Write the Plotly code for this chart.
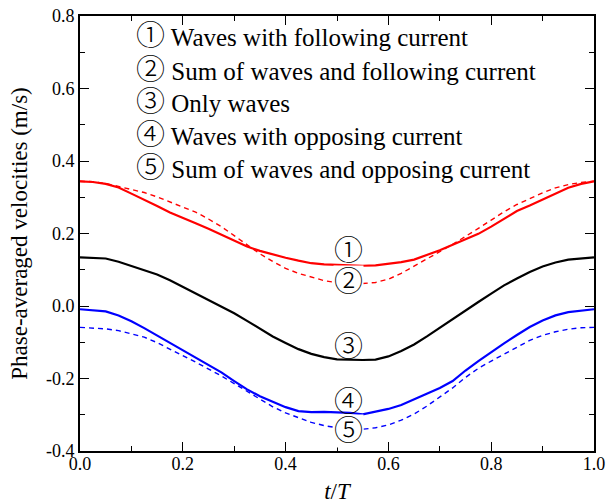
import plotly.graph_objects as go

# phase t/T
t = [i * 0.025 for i in range(41)]

# (1) Waves with following current (red solid)
v_follow = [0.344, 0.342, 0.337, 0.327, 0.310, 0.294, 0.276, 0.258, 0.242, 0.228,
            0.213, 0.197, 0.180, 0.164, 0.152, 0.142, 0.133, 0.125, 0.118, 0.115,
            0.113, 0.112, 0.111, 0.112, 0.116, 0.121, 0.128, 0.140, 0.154, 0.169,
            0.184, 0.199, 0.219, 0.240, 0.262, 0.277, 0.293, 0.311, 0.326, 0.337, 0.344]
# (2) Sum of waves and following current (red dashed)
v_sum_follow = [0.344, 0.343, 0.338, 0.330, 0.322, 0.313, 0.301, 0.287, 0.273, 0.259,
                0.240, 0.219, 0.194, 0.168, 0.144, 0.123, 0.104, 0.090, 0.079, 0.070,
                0.064, 0.061, 0.062, 0.065, 0.074, 0.090, 0.110, 0.131, 0.150, 0.170,
                0.191, 0.214, 0.237, 0.260, 0.280, 0.297, 0.312, 0.326, 0.335, 0.341, 0.344]
# (3) Only waves (black solid)
v_waves = [0.134, 0.133, 0.131, 0.122, 0.111, 0.100, 0.087, 0.071, 0.053, 0.036,
           0.018, 0.000, -0.020, -0.041, -0.062, -0.084, -0.102, -0.119, -0.132, -0.141,
           -0.147, -0.149, -0.149, -0.148, -0.139, -0.124, -0.106, -0.084, -0.060, -0.035,
           -0.012, 0.011, 0.034, 0.057, 0.076, 0.094, 0.109, 0.120, 0.128, 0.132, 0.134]
# (4) Waves with opposing current (blue solid)
v_oppose = [-0.009, -0.011, -0.015, -0.026, -0.042, -0.061, -0.081, -0.101, -0.122, -0.142,
            -0.161, -0.183, -0.207, -0.230, -0.249, -0.265, -0.279, -0.290, -0.293, -0.292,
            -0.293, -0.295, -0.299, -0.292, -0.284, -0.273, -0.257, -0.241, -0.226, -0.207,
            -0.178, -0.152, -0.127, -0.103, -0.080, -0.058, -0.040, -0.026, -0.017, -0.012, -0.009]
# (5) Sum of waves and opposing current (blue dashed)
v_sum_oppose = [-0.059, -0.060, -0.063, -0.068, -0.076, -0.086, -0.101, -0.118, -0.137, -0.155,
                -0.173, -0.193, -0.214, -0.236, -0.258, -0.278, -0.295, -0.309, -0.321, -0.330,
                -0.336, -0.339, -0.340, -0.336, -0.328, -0.315, -0.298, -0.276, -0.252, -0.226,
                -0.197, -0.172, -0.152, -0.133, -0.114, -0.095, -0.081, -0.071, -0.064, -0.060, -0.059]

marks = ["①", "②", "③", "④", "⑤"]
legend_labels = ["Waves with following current",
                 "Sum of waves and following current",
                 "Only waves",
                 "Waves with opposing current",
                 "Sum of waves and opposing current"]
legend_y = [0.745, 0.652, 0.563, 0.473, 0.382]
legend_x = 0.105

mark_x = [0.523, 0.523, 0.523, 0.523, 0.523]
mark_y = [0.152, 0.067, -0.114, -0.264, -0.346]
mark_bg = [None, "white", None, None, "white"]

x_ticks = [0.0, 0.2, 0.4, 0.6, 0.8, 1.0]
x_ticktext = ["0.0", "0.2", "0.4", "0.6", "0.8", "1.0"]
y_ticks = [-0.4, -0.2, 0.0, 0.2, 0.4, 0.6, 0.8]
y_ticktext = ["-0.4", "-0.2", "0.0", "0.2", "0.4", "0.6", "0.8"]

FONT = "Liberation Serif, Noto Sans CJK JP, serif"
RED = "#ff0000"
BLUE = "#0000ff"
CIRCLE = '<span style="font-size:29px;font-weight:300">{}</span>'

fig = go.Figure()
fig.add_trace(go.Scatter(x=t, y=v_sum_follow, mode="lines",
                         line=dict(color=RED, width=1.4, dash="5px,4px")))
fig.add_trace(go.Scatter(x=t, y=v_follow, mode="lines",
                         line=dict(color=RED, width=2.2)))
fig.add_trace(go.Scatter(x=t, y=v_waves, mode="lines",
                         line=dict(color="black", width=2.2)))
fig.add_trace(go.Scatter(x=t, y=v_sum_oppose, mode="lines",
                         line=dict(color=BLUE, width=1.4, dash="5px,4px")))
fig.add_trace(go.Scatter(x=t, y=v_oppose, mode="lines",
                         line=dict(color=BLUE, width=2.2)))

for m, lab, yy in zip(marks, legend_labels, legend_y):
    fig.add_annotation(x=legend_x, y=yy, xref="x", yref="y",
                       text=CIRCLE.format(m) + " " + lab,
                       showarrow=False, xanchor="left", yanchor="middle",
                       font=dict(family=FONT, size=25, color="black"))

for m, mx, my, bg in zip(marks, mark_x, mark_y, mark_bg):
    fig.add_annotation(x=mx, y=my, xref="x", yref="y", text=CIRCLE.format(m),
                       showarrow=False, xanchor="center", yanchor="middle",
                       bgcolor=bg if bg else "rgba(0,0,0,0)", borderpad=0,
                       font=dict(family=FONT, size=20, color="black"))

axis_common = dict(showgrid=False, zeroline=False, showline=True, linecolor="black",
                   linewidth=1.6, mirror="ticks", ticks="inside", ticklen=9,
                   tickwidth=1.4, tickcolor="black", automargin=False,
                   tickfont=dict(family=FONT, size=18, color="black"))

fig.update_xaxes(range=[0, 1], tickvals=x_ticks, ticktext=x_ticktext,
                 ticklabelstandoff=-4,
                 minor=dict(ticks="inside", ticklen=5, tickwidth=1.4, dtick=0.1,
                            tickcolor="black", tick0=0),
                 title=dict(text="<i>t</i>/<i>T</i>", standoff=16,
                            font=dict(family=FONT, size=23, color="black")),
                 **axis_common)
fig.update_yaxes(range=[-0.4, 0.8], tickvals=y_ticks, ticktext=y_ticktext,
                 minor=dict(ticks="inside", ticklen=5, tickwidth=1.4, dtick=0.1,
                            tickcolor="black", tick0=0),
                 title=dict(text="Phase-averaged velocities (m/s)", standoff=12,
                            font=dict(family=FONT, size=23, color="black")),
                 **axis_common)

fig.update_layout(width=606, height=504, showlegend=False,
                  margin=dict(l=80, r=12, t=16, b=53),
                  plot_bgcolor="white", paper_bgcolor="white")

fig.write_html("out.html")
